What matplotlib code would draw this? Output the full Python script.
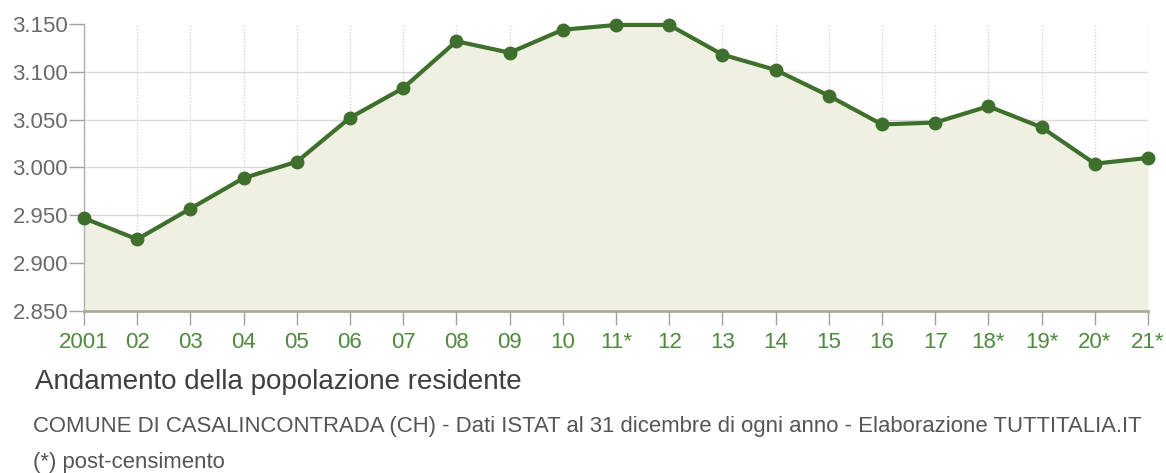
import matplotlib
matplotlib.use("Agg")
import matplotlib.pyplot as plt

years = ["2001", "02", "03", "04", "05", "06", "07", "08", "09", "10", "11*",
         "12", "13", "14", "15", "16", "17", "18*", "19*", "20*", "21*"]
population = [2947, 2925, 2957, 2989, 3006, 3052, 3083, 3132, 3120, 3144, 3149,
              3149, 3118, 3102, 3075, 3045, 3047, 3064, 3042, 3004, 3010]
y_ticks = [2850, 2900, 2950, 3000, 3050, 3100, 3150]
y_tick_labels = ["2.850", "2.900", "2.950", "3.000", "3.050", "3.100", "3.150"]

title = "Andamento della popolazione residente"
subtitle = "COMUNE DI CASALINCONTRADA (CH) - Dati ISTAT al 31 dicembre di ogni anno - Elaborazione TUTTITALIA.IT"
note = "(*) post-censimento"

plt.rcParams['font.family'] = ['Liberation Sans', 'DejaVu Sans']

W, H = 1166, 473
fig = plt.figure(figsize=(W / 100, H / 100), dpi=100)
ax = fig.add_axes([84 / W, 1 - 311 / H, (1148 - 84) / W, (311 - 24) / H])

x = list(range(len(years)))
line_color = "#3f6f2c"
fill_color = "#eff0e2"

ax.fill_between(x, population, 2850, color=fill_color, zorder=1, linewidth=0)
ax.plot(x, population, color=line_color, linewidth=3, marker="o", markersize=9,
        zorder=3, clip_on=False)

ax.set_xlim(0, len(years) - 1)
ax.set_ylim(2850, 3150)
ax.set_yticks(y_ticks)
ax.set_yticklabels(y_tick_labels)
ax.set_xticks(x)
ax.set_xticklabels(years)

ax.grid(axis="y", color="#d9d9d9", linewidth=1, linestyle="-", zorder=0)
ax.grid(axis="x", color="#cfcfcf", linewidth=0.9, linestyle=(0, (1, 1.5)), zorder=0)
ax.set_axisbelow(True)
ax.get_ygridlines()[-1].set_visible(False)

for s in ["top", "right"]:
    ax.spines[s].set_visible(False)
ax.spines["left"].set_color("#b0b0b0")
ax.spines["left"].set_linewidth(1)
ax.spines["bottom"].set_color("#a9ab98")
ax.spines["bottom"].set_linewidth(2)

ax.tick_params(axis="y", length=11, width=1, color="#a0a0a0", labelcolor="#6a6a6a",
               labelsize=16, pad=0.5)
ax.tick_params(axis="x", length=10, width=1, color="#a0a0a0", labelcolor="#4e8a3e",
               labelsize=16, pad=5)

fig.text(35 / W, 1 - 389 / H, title, fontsize=20, color="#3f3f3f", va="baseline", ha="left")
fig.text(33 / W, 1 - 432 / H, subtitle, fontsize=15.9, color="#555555", va="baseline", ha="left")
fig.text(33 / W, 1 - 468 / H, note, fontsize=15.9, color="#555555", va="baseline", ha="left")

fig.savefig("out.png", dpi=100, facecolor="white")
